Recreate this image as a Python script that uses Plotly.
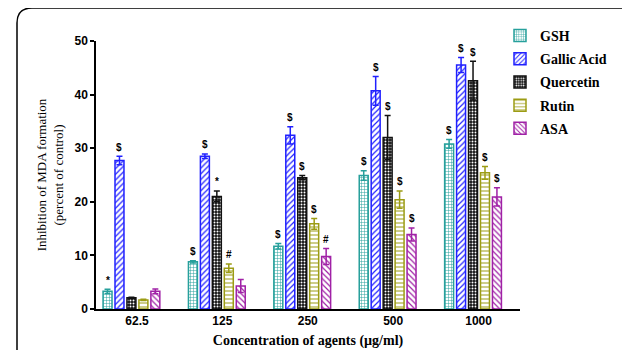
import plotly.graph_objects as go

categories = ["62.5", "125", "250", "500", "1000"]
series_names = ["GSH", "Gallic Acid", "Quercetin", "Rutin", "ASA"]

gsh = [3.3, 8.8, 11.7, 24.9, 30.8]
gsh_err = [0.4, 0.2, 0.5, 0.9, 0.8]
gallic = [27.7, 28.5, 32.4, 40.7, 45.5]
gallic_err = [0.8, 0.4, 1.6, 2.7, 1.4]
quercetin = [2.1, 21.0, 24.5, 32.0, 42.6]
quercetin_err = [0.1, 1.0, 0.4, 4.1, 3.6]
rutin = [1.7, 7.6, 15.9, 20.4, 25.4]
rutin_err = [0.1, 0.8, 1.0, 1.6, 1.2]
asa = [3.3, 4.3, 9.8, 13.9, 20.9]
asa_err = [0.45, 1.2, 1.5, 1.2, 1.7]

marks = {
    "GSH": ["*", "$", "$", "$", "$"],
    "Gallic Acid": ["$", "$", "$", "$", "$"],
    "Quercetin": ["", "*", "$", "$", "$"],
    "Rutin": ["", "#", "$", "$", "$"],
    "ASA": ["", "", "#", "$", "$"],
}

values = [gsh, gallic, quercetin, rutin, asa]
errors = [gsh_err, gallic_err, quercetin_err, rutin_err, asa_err]
colors = ["#27a09c", "#2020ff", "#111111", "#9c9c14", "#a021a6"]
patterns = [
    dict(shape="+", size=3, solidity=0.3, fgcolor="#27a09c", bgcolor="white"),
    dict(shape="/", size=4, solidity=0.3, fgcolor="#2020ff", bgcolor="white"),
    dict(shape=".", size=3, solidity=0.35, fgcolor="white", bgcolor="#111111"),
    dict(shape="-", size=4, solidity=0.25, fgcolor="#9c9c14", bgcolor="white"),
    dict(shape="\\", size=4, solidity=0.3, fgcolor="#a021a6", bgcolor="white"),
]

SERIF = "Liberation Serif, Times New Roman, serif"
SANS = "Liberation Sans, Arial, sans-serif"

W, H = 630, 350
L, R, T, B = 88, 118, 32, 38
pw, ph = W - L - R, H - T - B

xs = list(range(len(categories)))
fig = go.Figure()
bargap = 0.3
slot = (1 - bargap) / len(series_names)

for k, name in enumerate(series_names):
    pat = dict(patterns[k])
    pat.update(fillmode="replace")
    fig.add_trace(go.Bar(
        x=xs, y=values[k], name=f"<b>{name}</b>", legendgroup=name,
        marker=dict(color="white", line=dict(color=colors[k], width=1.5), pattern=pat),
        error_y=dict(type="data", array=errors[k], color=colors[k], thickness=1.5, width=3),
    ))
    for i, m in enumerate(marks[name]):
        if m:
            fig.add_annotation(
                x=i + (k - 2) * slot, y=values[k][i] + errors[k][i] + 0.3,
                text=f"<b>{m}</b>", showarrow=False, yanchor="bottom", xanchor="center",
                font=dict(family=SANS, size=10, color="black"),
            )

# rounded frame, pixel coordinates relative to plot-area bottom-left corner
r = 15
x0, x1, y0, yb = 9, 627, 11, 365
def fx(p):
    return p - L
def fy(p):
    return (H - B) - p
path = (f"M{fx(x0)},{fy(yb)} L{fx(x0)},{fy(y0 + r)} Q{fx(x0)},{fy(y0)} {fx(x0 + r)},{fy(y0)} "
        f"L{fx(x1 - r)},{fy(y0)} Q{fx(x1)},{fy(y0)} {fx(x1)},{fy(y0 + r)} L{fx(x1)},{fy(yb)}")
fig.add_shape(type="path", path=path, xref="paper", yref="paper",
              xsizemode="pixel", ysizemode="pixel", xanchor=0, yanchor=0,
              line=dict(color="black", width=1.5))

fig.update_layout(
    width=W, height=H,
    margin=dict(l=L, r=R, t=T, b=B, pad=0),
    paper_bgcolor="white", plot_bgcolor="white",
    barmode="group", bargap=bargap, bargroupgap=0.25,
    showlegend=True,
    legend=dict(x=(492 - L) / pw, y=(H - B - 10) / ph, xanchor="left", yanchor="top",
                traceorder="grouped", tracegroupgap=2,
                font=dict(family=SERIF, size=14, color="black"),
                bgcolor="rgba(0,0,0,0)", itemwidth=30),
    xaxis=dict(range=[-0.415, 4.55], tickmode="array",
               tickvals=[i + 0.065 for i in xs], ticktext=[f"<b>{c}</b>" for c in categories],
               showline=True, linecolor="black", linewidth=1.5, ticks="",
               showgrid=False, zeroline=False,
               tickfont=dict(family=SANS, size=12, color="black"),
               title=dict(text="<b>Concentration of agents (µg/ml)</b>", standoff=8,
                          font=dict(family=SERIF, size=14, color="black"))),
    yaxis=dict(range=[0, 50], tickvals=[0, 10, 20, 30, 40, 50],
               ticktext=[f"<b>{v}</b>" for v in [0, 10, 20, 30, 40, 50]],
               showline=True, linecolor="black", linewidth=1.5, ticks="outside",
               ticklen=4, tickwidth=1.5, tickcolor="black",
               showgrid=False, zeroline=False,
               tickfont=dict(family=SANS, size=12, color="black"),
               title=dict(text="Inhibition of MDA formation<br>(percent of control)", standoff=8,
                          font=dict(family=SERIF, size=13, color="black"))),
)

fig.write_html("out.html")
